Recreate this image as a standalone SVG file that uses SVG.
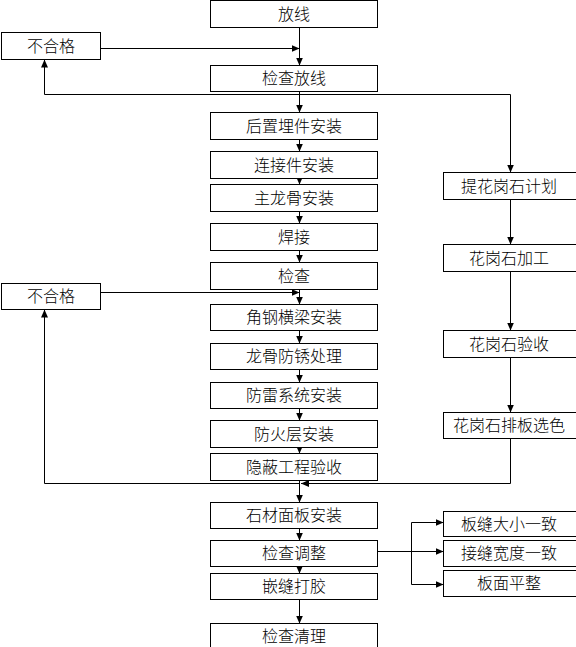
<svg xmlns="http://www.w3.org/2000/svg" width="576" height="647" viewBox="0 0 576 647">
<style>
.b{fill:#fff;stroke:#000;stroke-width:1}
.t{font-family:"Noto Sans CJK SC","Noto Sans",sans-serif;font-size:16px;font-weight:300;text-anchor:middle;fill:#000}
.c{fill:none;stroke:#000;stroke-width:1}
</style>
<defs>
<marker id="a" markerUnits="userSpaceOnUse" markerWidth="8" markerHeight="8" refX="8" refY="3.5" orient="auto"><path d="M0,0 L8,3.5 L0,7 z" fill="#000"/></marker>
</defs>
<rect width="576" height="647" fill="#fff"/>
<g id="connectors">
<path class="c" marker-end="url(#a)" d="M299.5 27.5V65.5"/>
<path class="c" marker-end="url(#a)" d="M299.5 91.5V112.5"/>
<path class="c" marker-end="url(#a)" d="M299.5 139.5V151.5"/>
<path class="c" marker-end="url(#a)" d="M299.5 178.5V184.5"/>
<path class="c" marker-end="url(#a)" d="M299.5 211.5V223.5"/>
<path class="c" marker-end="url(#a)" d="M299.5 250.5V262.5"/>
<path class="c" marker-end="url(#a)" d="M299.5 289.5V304.5"/>
<path class="c" marker-end="url(#a)" d="M299.5 330.5V343.5"/>
<path class="c" marker-end="url(#a)" d="M299.5 369.5V382.5"/>
<path class="c" marker-end="url(#a)" d="M299.5 408.5V420.5"/>
<path class="c" marker-end="url(#a)" d="M299.5 447.5V453.5"/>
<path class="c" marker-end="url(#a)" d="M299.5 480.5V502.5"/>
<path class="c" marker-end="url(#a)" d="M299.5 528.5V540.5"/>
<path class="c" marker-end="url(#a)" d="M299.5 566.5V573.5"/>
<path class="c" marker-end="url(#a)" d="M299.5 599.5V623.5"/>
<path class="c" marker-end="url(#a)" d="M100.5 48.5H299.5"/>
<path class="c" marker-end="url(#a)" d="M299.5 94.5H510.5V172.5"/>
<path class="c" marker-end="url(#a)" d="M299.5 94.5H44.5V59.5"/>
<path class="c" marker-end="url(#a)" d="M100.5 292.5H299.5"/>
<path class="c" marker-end="url(#a)" d="M510.5 199.5V244.5"/>
<path class="c" marker-end="url(#a)" d="M510.5 271.5V330.5"/>
<path class="c" marker-end="url(#a)" d="M510.5 357.5V412.5"/>
<path class="c" marker-end="url(#a)" d="M510.5 438.5V483.5H301"/>
<path class="c" marker-end="url(#a)" d="M299.5 483.5H44.5V309.5"/>
<path class="c" d="M377.5 551.5H411.5M411.5 522.5V584.5"/>
<path class="c" marker-end="url(#a)" d="M411.5 522.5H443.5"/>
<path class="c" marker-end="url(#a)" d="M411.5 551.5H443.5"/>
<path class="c" marker-end="url(#a)" d="M411.5 584.5H443.5"/>
</g>
<g id="n1"><rect class="b" x="210.5" y="0.5" width="167" height="27"/><text class="t" x="294" y="19.5">放线</text></g>
<g id="n2"><rect class="b" x="210.5" y="65.5" width="167" height="26"/><text class="t" x="294" y="84">检查放线</text></g>
<g id="n3"><rect class="b" x="210.5" y="112.5" width="167" height="27"/><text class="t" x="294" y="131.5">后置埋件安装</text></g>
<g id="n4"><rect class="b" x="210.5" y="151.5" width="167" height="27"/><text class="t" x="294" y="170.5">连接件安装</text></g>
<g id="n5"><rect class="b" x="210.5" y="184.5" width="167" height="27"/><text class="t" x="294" y="203.5">主龙骨安装</text></g>
<g id="n6"><rect class="b" x="210.5" y="223.5" width="167" height="27"/><text class="t" x="294" y="242.5">焊接</text></g>
<g id="n7"><rect class="b" x="210.5" y="262.5" width="167" height="27"/><text class="t" x="294" y="281.5">检查</text></g>
<g id="n8"><rect class="b" x="210.5" y="304.5" width="167" height="26"/><text class="t" x="294" y="323">角钢横梁安装</text></g>
<g id="n9"><rect class="b" x="210.5" y="343.5" width="167" height="26"/><text class="t" x="294" y="362">龙骨防锈处理</text></g>
<g id="n10"><rect class="b" x="210.5" y="382.5" width="167" height="26"/><text class="t" x="294" y="401">防雷系统安装</text></g>
<g id="n11"><rect class="b" x="210.5" y="420.5" width="167" height="27"/><text class="t" x="294" y="439.5">防火层安装</text></g>
<g id="n12"><rect class="b" x="210.5" y="453.5" width="167" height="27"/><text class="t" x="294" y="472.5">隐蔽工程验收</text></g>
<g id="n13"><rect class="b" x="210.5" y="502.5" width="167" height="26"/><text class="t" x="294" y="521">石材面板安装</text></g>
<g id="n14"><rect class="b" x="210.5" y="540.5" width="167" height="26"/><text class="t" x="294" y="559">检查调整</text></g>
<g id="n15"><rect class="b" x="210.5" y="573.5" width="167" height="26"/><text class="t" x="294" y="592">嵌缝打胶</text></g>
<g id="n16"><rect class="b" x="210.5" y="623.5" width="167" height="30"/><text class="t" x="294" y="642">检查清理</text></g>
<g id="f1"><rect class="b" x="1.5" y="32.5" width="99" height="27"/><text class="t" x="51" y="51.5">不合格</text></g>
<g id="f2"><rect class="b" x="1.5" y="283.5" width="99" height="26"/><text class="t" x="51" y="302">不合格</text></g>
<g id="r1"><rect class="b" x="443.5" y="172.5" width="134" height="27"/><text class="t" x="509" y="191.5">提花岗石计划</text></g>
<g id="r2"><rect class="b" x="443.5" y="244.5" width="134" height="27"/><text class="t" x="509" y="263.5">花岗石加工</text></g>
<g id="r3"><rect class="b" x="443.5" y="330.5" width="134" height="27"/><text class="t" x="509" y="349.5">花岗石验收</text></g>
<g id="r4"><rect class="b" x="443.5" y="412.5" width="134" height="26"/><text class="t" x="509" y="431">花岗石排板选色</text></g>
<g id="r5"><rect class="b" x="443.5" y="511.5" width="134" height="25"/><text class="t" x="509" y="529.5">板缝大小一致</text></g>
<g id="r6"><rect class="b" x="443.5" y="540.5" width="134" height="26"/><text class="t" x="509" y="559">接缝宽度一致</text></g>
<g id="r7"><rect class="b" x="443.5" y="570.5" width="134" height="26"/><text class="t" x="509" y="589">板面平整</text></g>
</svg>
